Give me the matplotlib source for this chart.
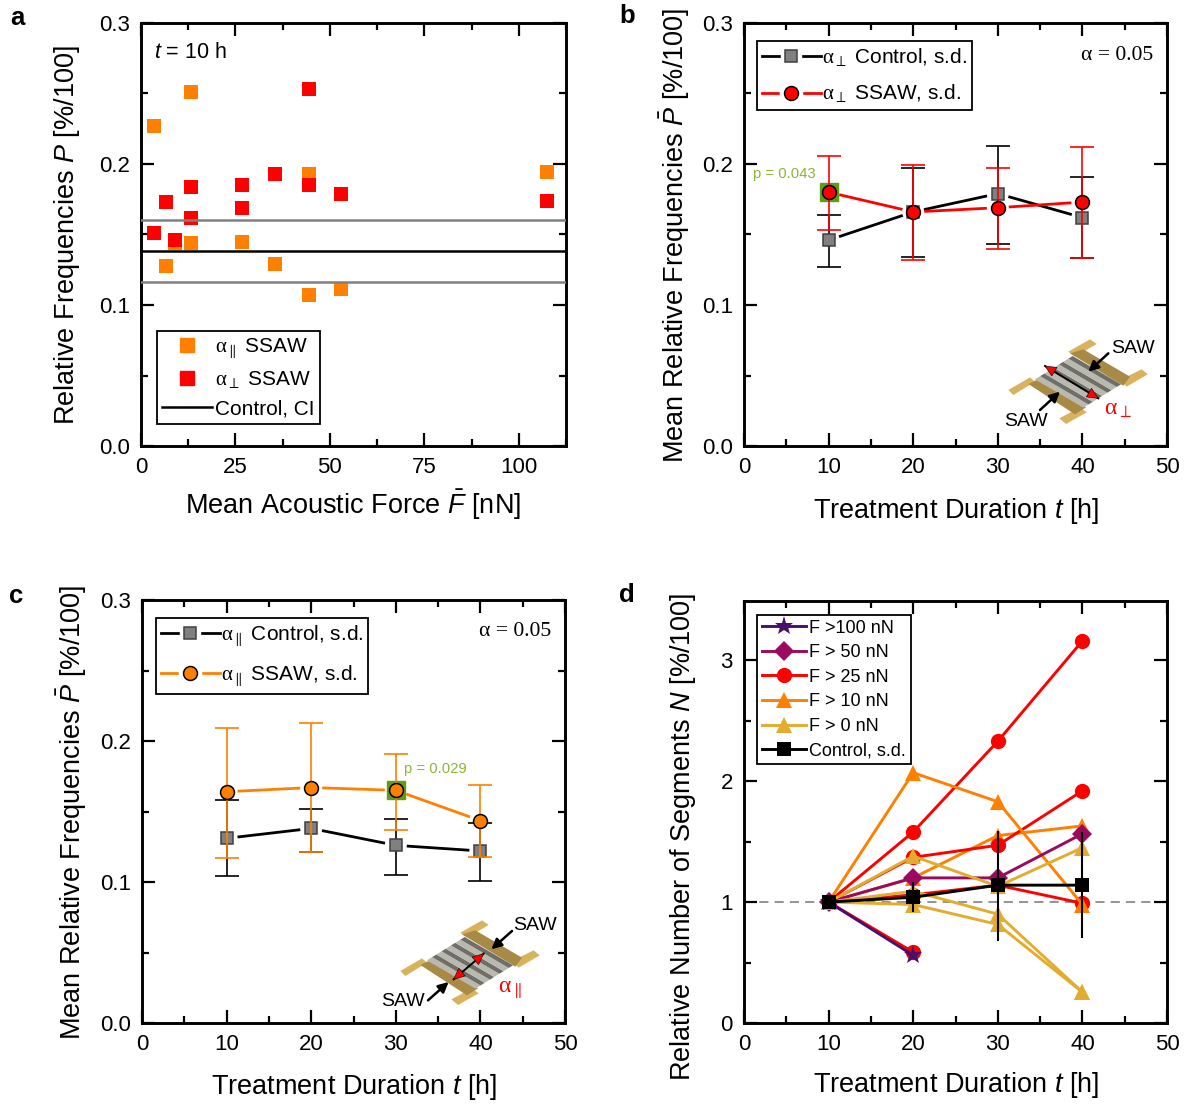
#!/usr/bin/env python3
"""Four panel figure: relative frequencies and segment numbers under SSAW treatment."""
import numpy as np
import matplotlib
matplotlib.use('Agg')
import matplotlib.pyplot as plt
from matplotlib.lines import Line2D
from matplotlib.legend_handler import HandlerTuple
from matplotlib.patches import Polygon
from matplotlib.ticker import MultipleLocator
from matplotlib.transforms import IdentityTransform

plt.rcParams['font.family'] = ['Liberation Sans', 'DejaVu Sans']
plt.rcParams['mathtext.fontset'] = 'custom'
plt.rcParams['mathtext.rm'] = 'Liberation Sans'
plt.rcParams['mathtext.it'] = 'Liberation Sans:italic'
plt.rcParams['mathtext.tt'] = 'Liberation Serif'

W, H = 1190, 1104
BLACK = '#000000'
GRAY = '#808080'
RED = '#ff0000'
ORANGE = '#ff8000'
GOLD = '#e3ac2e'
PURPLE = '#9b0a5f'
DARK = '#4b0f6b'
GREEN = '#5f9e10'
PTEXT = '#8cb43c'

# panel a
a_par_x = [3.4, 6.6, 9.0, 13.3, 13.3, 26.7, 35.5, 44.5, 44.5, 53.0, 107.5]
a_par_y = [0.227, 0.128, 0.144, 0.251, 0.144, 0.145, 0.129, 0.193, 0.107, 0.111, 0.194]
a_per_x = [3.4, 6.6, 9.0, 13.3, 13.3, 26.7, 26.7, 35.5, 44.5, 44.5, 53.0, 107.5]
a_per_y = [0.151, 0.173, 0.146, 0.184, 0.162, 0.185, 0.169, 0.193, 0.253, 0.185, 0.179, 0.174]
a_mean = 0.138
a_ci = [0.116, 0.160]

# panels b and c
t = [10, 20, 30, 40]
b_ctrl = [0.146, 0.166, 0.179, 0.162]
b_ctrl_hi = [0.164, 0.197, 0.213, 0.191]
b_ctrl_lo = [0.127, 0.134, 0.143, 0.133]
b_ssaw = [0.180, 0.166, 0.169, 0.173]
b_ssaw_hi = [0.206, 0.199, 0.197, 0.212]
b_ssaw_lo = [0.153, 0.132, 0.140, 0.133]

c_ctrl = [0.131, 0.138, 0.126, 0.122]
c_ctrl_hi = [0.158, 0.152, 0.145, 0.142]
c_ctrl_lo = [0.104, 0.121, 0.105, 0.101]
c_ssaw = [0.164, 0.167, 0.165, 0.1435]
c_ssaw_hi = [0.209, 0.213, 0.191, 0.169]
c_ssaw_lo = [0.117, 0.121, 0.137, 0.118]

# panel d
d_t = [10, 20, 30, 40]
d_orange_b = [1, 1.20, 1.55, 1.63]
d_red_a = [1, 1.58, 2.33, 3.16]
d_red_b = [1, 1.37, 1.47, 1.92]
d_red_c = [1, 1.06, 1.14, 0.99]
d_red_d = [1, 0.586]
d_orange_a = [1, 2.07, 1.83, 0.98]
d_gold_a = [1, 1.38, 1.13, 1.45]
d_gold_b = [1, 1.09, 0.90, 0.255]
d_gold_c = [1, 0.98, 0.815, 0.255]
d_purple = [1, 1.20, 1.20, 1.565]
d_star = [1, 0.56]
d_ctrl = [1, 1.04, 1.14, 1.14]
d_ctrl_hi = [1, 1.165, 1.59, 1.58]
d_ctrl_lo = [1, 0.92, 0.68, 0.70]

fig = plt.figure(figsize=(W / 100, H / 100), dpi=100, facecolor='white')


def panel(l, t_, r, b, xlim, ylim, xmaj, ymaj):
    ax = fig.add_axes([l / W, 1 - b / H, (r - l) / W, (b - t_) / H])
    ax.set_xlim(*xlim)
    ax.set_ylim(*ylim)
    ax.xaxis.set_major_locator(MultipleLocator(xmaj))
    ax.xaxis.set_minor_locator(MultipleLocator(xmaj / 2))
    ax.yaxis.set_major_locator(MultipleLocator(ymaj))
    ax.yaxis.set_minor_locator(MultipleLocator(ymaj / 2))
    ax.tick_params(which='major', direction='in', top=True, right=True,
                   length=9.5, width=1.6, labelsize=16, pad=8)
    ax.tick_params(which='minor', direction='in', top=True, right=True,
                   length=5, width=1.6)
    for s in ax.spines.values():
        s.set_linewidth(2.1)
    return ax


def gap_line(ax, xs, ys, color, gap=11, lw=2.0, z=3):
    # Origin style line: stops short of the symbols
    pts = ax.transData.transform(np.column_stack([xs, ys]))
    inv = ax.transData.inverted()
    for p, q in zip(pts[:-1], pts[1:]):
        d = np.hypot(*(q - p))
        if d <= 2 * gap:
            continue
        u = (q - p) / d
        seg = inv.transform([p + u * gap, q - u * gap])
        ax.plot(seg[:, 0], seg[:, 1], color=color, lw=lw, zorder=z, solid_capstyle='butt')


def err_series(ax, xs, ys, hi, lo, color, face, marker, ms, z):
    ys = np.array(ys)
    gap_line(ax, xs, ys, color, z=z)
    ax.errorbar(xs, ys, yerr=[ys - np.array(lo), np.array(hi) - ys], fmt='none',
                ecolor=color, elinewidth=1.2, capsize=8.3, capthick=1.2, zorder=z)
    ax.plot(xs, ys, ls='none', marker=marker, ms=ms, mfc=face, mec='#000000' if marker == 'o' else '#404040',
            mew=1.1, zorder=z + 1)


def gap_handle(color, face, marker, ms):
    line = Line2D([], [], color=color, lw=2.0)
    halo = Line2D([], [], ls='none', marker=marker, ms=ms + 6, mfc='white', mec='white')
    mark = Line2D([], [], ls='none', marker=marker, ms=ms, mfc=face,
                  mec='#000000' if marker == 'o' else '#404040', mew=1.1)
    return (line, halo, mark)


def box_legend(ax, handles, labels, x, y, **kw):
    leg = ax.legend(handles, labels, loc='upper left', bbox_to_anchor=(x, H - y),
                    bbox_transform=IdentityTransform(), borderaxespad=0, fancybox=False,
                    framealpha=1, edgecolor='black',
                    handler_map={tuple: HandlerTuple(ndivide=1, pad=0)}, **kw)
    leg.get_frame().set_linewidth(1.3)
    leg.set_zorder(10)
    return leg


# panel a
ax_a = panel(141, 23, 566, 446, (0, 112.5), (0, 0.3), 25, 0.1)
ax_a.scatter(a_par_x, a_par_y, marker='s', s=88, c=ORANGE, linewidths=0, zorder=2)
ax_a.scatter(a_per_x, a_per_y, marker='s', s=88, c=RED, linewidths=0, zorder=2)
ax_a.axhline(a_mean, color=BLACK, lw=1.8, zorder=3)
for v in a_ci:
    ax_a.axhline(v, color=GRAY, lw=1.8, zorder=3)
box_legend(ax_a,
           [Line2D([], [], ls='none', marker='s', ms=9.5, color=ORANGE),
            Line2D([], [], ls='none', marker='s', ms=9.5, color=RED),
            Line2D([], [], color=BLACK, lw=1.8)],
           [r'$\mathtt{\alpha}_{\parallel}$ SSAW', r'$\mathtt{\alpha}_{\perp}$ SSAW', 'Control, CI'],
           157, 331, fontsize=15, handlelength=2.4, handletextpad=0.15,
           labelspacing=0.42, borderpad=0.25)

# panel b
ax_b = panel(744, 23, 1167, 446, (0, 50), (0, 0.3), 10, 0.1)
ax_b.plot([t[0]], [b_ssaw[0]], ls='none', marker='s', ms=13.5, mfc=GREEN, mec=GREEN, zorder=1)
err_series(ax_b, t, b_ctrl, b_ctrl_hi, b_ctrl_lo, BLACK, GRAY, 's', 8.5, 3)
err_series(ax_b, t, b_ssaw, b_ssaw_hi, b_ssaw_lo, RED, RED, 'o', 10, 5)
box_legend(ax_b,
           [gap_handle(BLACK, GRAY, 's', 8.5), gap_handle(RED, RED, 'o', 10)],
           [r'$\mathtt{\alpha}_{\perp}$ Control, s.d.', r'$\mathtt{\alpha}_{\perp}$ SSAW, s.d.'],
           757, 41, fontsize=15, handlelength=2.8, handletextpad=0.05,
           labelspacing=0.69, borderpad=0.25)

# panel c
ax_c = panel(142, 600, 565, 1023, (0, 50), (0, 0.3), 10, 0.1)
ax_c.plot([t[2]], [c_ssaw[2]], ls='none', marker='s', ms=13.5, mfc=GREEN, mec=GREEN, zorder=1)
err_series(ax_c, t, c_ctrl, c_ctrl_hi, c_ctrl_lo, BLACK, GRAY, 's', 8.5, 3)
err_series(ax_c, t, c_ssaw, c_ssaw_hi, c_ssaw_lo, ORANGE, ORANGE, 'o', 10, 5)
box_legend(ax_c,
           [gap_handle(BLACK, GRAY, 's', 8.5), gap_handle(ORANGE, ORANGE, 'o', 10)],
           [r'$\mathtt{\alpha}_{\parallel}$ Control, s.d.', r'$\mathtt{\alpha}_{\parallel}$ SSAW, s.d.'],
           156, 618, fontsize=15, handlelength=2.8, handletextpad=0.05,
           labelspacing=0.69, borderpad=0.25)

# panel d
ax_d = panel(744, 601, 1167, 1023, (0, 50), (0, 3.49), 10, 1)
ax_d.axhline(1, color='#777777', lw=1.1, ls=(0, (6, 4)), zorder=1)
KW = dict(lw=2.1, ms=12, mew=0)
ax_d.plot(d_t, d_orange_b, color=ORANGE, marker='^', zorder=2, **KW)
ax_d.plot(d_t, d_red_a, color=RED, marker='o', zorder=3, lw=2.1, ms=11, mew=0)
ax_d.plot(d_t, d_red_b, color=RED, marker='o', zorder=3, lw=2.1, ms=11, mew=0)
ax_d.plot(d_t, d_red_c, color=RED, marker='o', zorder=3, lw=2.1, ms=11, mew=0)
ax_d.plot(d_t[:2], d_red_d, color=RED, marker='o', zorder=3, lw=2.1, ms=11, mew=0)
ax_d.plot(d_t, d_orange_a, color=ORANGE, marker='^', zorder=4, **KW)
ax_d.plot(d_t, d_purple, color=PURPLE, marker='D', zorder=5, lw=2.1, ms=10, mew=0)
ax_d.plot(d_t, d_gold_a, color=GOLD, marker='^', zorder=6, **KW)
ax_d.plot(d_t, d_gold_b, color=GOLD, marker='^', zorder=6, **KW)
ax_d.plot(d_t, d_gold_c, color=GOLD, marker='^', zorder=6, **KW)
ax_d.plot(d_t[:2], d_star, color=DARK, marker='*', zorder=7, lw=2.1, ms=14, mew=0)
ctrl = np.array(d_ctrl)
ax_d.errorbar(d_t, ctrl, yerr=[ctrl - np.array(d_ctrl_lo), np.array(d_ctrl_hi) - ctrl],
              color=BLACK, marker='s', ms=10, mew=0, lw=2.1, elinewidth=1.5,
              capsize=8.3, capthick=1.5, zorder=8)
box_legend(ax_d,
           [Line2D([], [], color=DARK, marker='*', lw=2.1, ms=14, mew=0),
            Line2D([], [], color=PURPLE, marker='D', lw=2.1, ms=10, mew=0),
            Line2D([], [], color=RED, marker='o', lw=2.1, ms=11, mew=0),
            Line2D([], [], color=ORANGE, marker='^', **KW),
            Line2D([], [], color=GOLD, marker='^', **KW),
            Line2D([], [], color=BLACK, marker='s', lw=2.1, ms=10, mew=0)],
           ['F >100 nN', 'F > 50 nN', 'F > 25 nN', 'F > 10 nN', 'F > 0 nN', 'Control, s.d.'],
           757, 615, fontsize=13, handlelength=2.45, handletextpad=0.2,
           labelspacing=0.42, borderpad=0.25)

# overlay in pixel coordinates for labels and the device sketch
ov = fig.add_axes([0, 0, 1, 1], zorder=20)
ov.set_xlim(0, W)
ov.set_ylim(H, 0)
ov.axis('off')
ov.patch.set_alpha(0)

LAB = 19.5
for (x, y, s) in [(353, 505, r'Mean Acoustic Force $\bar{F}$ [nN]'),
                  (956, 511, r'Treatment Duration $t$ [h]'),
                  (354, 1087, r'Treatment Duration $t$ [h]'),
                  (956, 1085, r'Treatment Duration $t$ [h]')]:
    ov.text(x, y, s, ha='center', va='center', fontsize=LAB)
for (x, y, s) in [(67, 235, r'Relative Frequencies $P$ [%/100]'),
                  (675, 235, r'Mean Relative Frequencies $\bar{P}$ [%/100]'),
                  (72, 812, r'Mean Relative Frequencies $\bar{P}$ [%/100]'),
                  (683, 837, r'Relative Number of Segments $N$ [%/100]')]:
    ov.text(x, y, s, ha='center', va='center', rotation=90, fontsize=LAB)
for (x, y, s) in [(17, 18, 'a'), (627, 16, 'b'), (16, 596, 'c'), (627, 595, 'd')]:
    ov.text(x, y, s, ha='center', va='center', fontsize=18.5, fontweight='bold')

ov.text(154, 53, r'$t$ = 10 h', ha='left', va='center', fontsize=15.5)
ov.text(1117, 55, '\u03b1 = 0.05', ha='center', va='center', fontsize=15.6, family='Liberation Serif')
ov.text(515, 632, '\u03b1 = 0.05', ha='center', va='center', fontsize=15.6, family='Liberation Serif')
ov.text(784, 174, 'p = 0.043', ha='center', va='center', fontsize=10.7, color=PTEXT)
ov.text(435, 769, 'p = 0.029', ha='center', va='center', fontsize=10.7, color=PTEXT)


def device(x0, y0, parallel):
    # sketch coordinates follow a 3x crop of the device
    def P(pts):
        return [(x0 + a / 3, y0 + b / 3) for a, b in pts]

    pad = '#d9b25e'
    rail = '#a98a45'
    for poly in ([(265, 95), (330, 58), (350, 72), (285, 110)],
                 [(420, 180), (485, 148), (503, 163), (440, 200)],
                 [(85, 210), (150, 172), (165, 185), (100, 225)],
                 [(238, 295), (300, 262), (320, 277), (258, 312)]):
        ov.add_patch(Polygon(P(poly), fc=pad, ec='none'))
    for poly in ([(270, 100), (310, 88), (450, 170), (430, 197)],
                 [(145, 192), (170, 180), (318, 262), (285, 283)]):
        ov.add_patch(Polygon(P(poly), fc=rail, ec='none'))
    a = np.array([165., 178.])
    b = np.array([278., 108.])
    d = np.array([145., 85.])
    n = 4
    for i in range(n):
        f0, f1, f2 = i / n, (i + 0.55) / n, (i + 1) / n
        s0, s1, s2 = a + (b - a) * f0, a + (b - a) * f1, a + (b - a) * f2
        ov.add_patch(Polygon(P([s0, s1, s1 + d, s0 + d]), fc='#b9b9b0', ec='none'))
        ov.add_patch(Polygon(P([s1, s2, s2 + d, s1 + d]), fc='#6f6f68', ec='none'))
    if parallel:
        red = [(245, 235), (335, 158)]
        saw = [[(420, 90), (358, 145)], [(168, 298), (230, 243)]]
        txt = [(490, 72), (92, 300)]
        sym = r'$\mathtt{\alpha}_{\parallel}$'
    else:
        red = [(195, 138), (355, 235)]
        saw = [[(385, 100), (325, 155)], [(180, 270), (240, 215)]]
        txt = [(458, 85), (137, 305)]
        sym = r'$\mathtt{\alpha}_{\perp}$'
    (r0, r1) = P(red)
    ov.plot([r0[0], r1[0]], [r0[1], r1[1]], color='black', lw=1.4)
    for tip, tail in ((r0, r1), (r1, r0)):
        v = np.array(tail) - np.array(tip)
        v = v / np.hypot(*v)
        base = np.array(tip) + v * 11
        nrm = np.array([-v[1], v[0]]) * 5
        ov.add_patch(Polygon([tip, base + nrm, base - nrm], fc=RED, ec='black', lw=0.4, zorder=4))
    for s in saw:
        (s0, s1) = P(s)
        ov.annotate('', xy=s1, xytext=s0, arrowprops=dict(arrowstyle='-|>', color='black',
                    lw=1.8, mutation_scale=15, shrinkA=0, shrinkB=0))
    for p in P(txt):
        ov.text(p[0], p[1], 'SAW', ha='center', va='center', fontsize=14)
    p = P([(415, 268)])[0]
    ov.text(p[0], p[1], sym, ha='center', va='center', fontsize=17, color=RED)


device(980, 320, False)
device(370 + 2, 900 + 1, True)

fig.savefig('out.png', dpi=100, facecolor='white')
plt.close(fig)
